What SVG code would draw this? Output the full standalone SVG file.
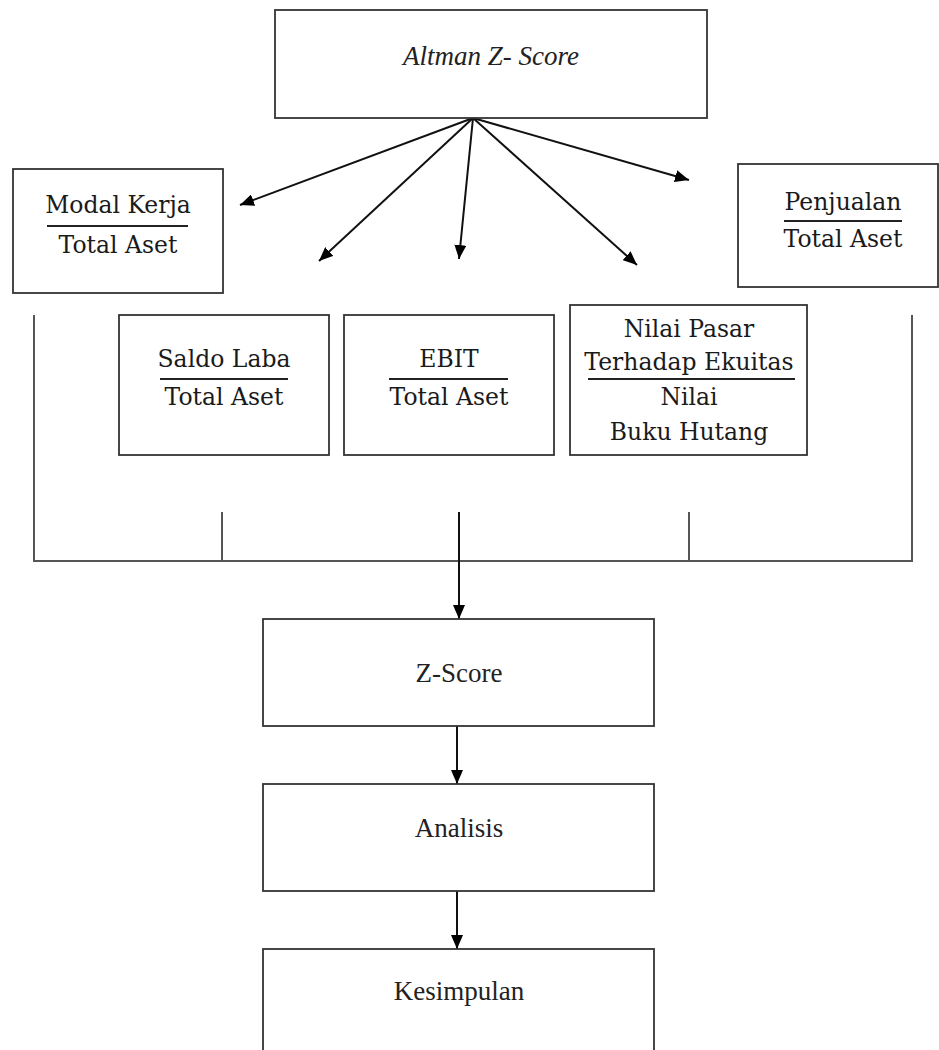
<svg xmlns="http://www.w3.org/2000/svg" width="939" height="1050" viewBox="0 0 939 1050">
<defs>
<style>
.box{fill:#fff;stroke:#333;stroke-width:1.8}
.ln{fill:none;stroke:#111;stroke-width:2}
.br{fill:none;stroke:#555;stroke-width:2}
.bar{stroke:#222;stroke-width:2.2}
.c{font-family:"DejaVu Serif","Liberation Serif",serif;font-size:23.5px;fill:#1a1a1a;text-anchor:middle}
.t{font-family:"Liberation Serif",serif;font-size:27px;fill:#222;text-anchor:middle}
.ti{font-style:italic}
</style>
<marker id="ah" viewBox="0 0 14 12" refX="14" refY="6" markerWidth="14" markerHeight="12" markerUnits="userSpaceOnUse" orient="auto">
<path d="M0,0 L14,6 L0,12 z" fill="#000"/>
</marker>
</defs>
<rect width="939" height="1050" fill="#fff"/>

<g id="connectors">
<line class="ln" x1="473" y1="118" x2="240" y2="205" marker-end="url(#ah)"/>
<line class="ln" x1="473" y1="118" x2="319" y2="261" marker-end="url(#ah)"/>
<line class="ln" x1="473" y1="118" x2="459" y2="259" marker-end="url(#ah)"/>
<line class="ln" x1="473" y1="118" x2="637" y2="265" marker-end="url(#ah)"/>
<line class="ln" x1="473" y1="118" x2="689" y2="180" marker-end="url(#ah)"/>
<path class="br" d="M34,315 V561 H912 V315"/>
<line class="br" x1="222" y1="512" x2="222" y2="561"/>
<line class="br" x1="689" y1="512" x2="689" y2="561"/>
<line class="ln" x1="459" y1="512" x2="459" y2="619" marker-end="url(#ah)"/>
<line class="ln" x1="457" y1="726" x2="457" y2="784" marker-end="url(#ah)"/>
<line class="ln" x1="457" y1="891" x2="457" y2="949" marker-end="url(#ah)"/>
</g>

<g id="altman">
<rect class="box" x="275" y="10" width="432" height="108"/>
<text class="t ti" x="491" y="65">Altman Z- Score</text>
</g>

<g id="modal-kerja">
<rect class="box" x="13" y="169" width="210" height="124"/>
<text class="c" x="118" y="213">Modal Kerja</text>
<line class="bar" x1="47" y1="226" x2="188" y2="226"/>
<text class="c" x="118" y="253">Total Aset</text>
</g>

<g id="penjualan">
<rect class="box" x="738" y="164" width="200" height="123"/>
<text class="c" x="843" y="210">Penjualan</text>
<line class="bar" x1="784" y1="221" x2="902" y2="221"/>
<text class="c" x="843" y="247">Total Aset</text>
</g>

<g id="saldo-laba">
<rect class="box" x="119" y="315" width="210" height="140"/>
<text class="c" x="224" y="367">Saldo Laba</text>
<line class="bar" x1="160" y1="379" x2="288" y2="379"/>
<text class="c" x="224" y="405">Total Aset</text>
</g>

<g id="ebit">
<rect class="box" x="344" y="315" width="210" height="140"/>
<text class="c" x="449" y="367">EBIT</text>
<line class="bar" x1="389" y1="379" x2="508" y2="379"/>
<text class="c" x="449" y="405">Total Aset</text>
</g>

<g id="nilai-pasar">
<rect class="box" x="570" y="305" width="237" height="150"/>
<text class="c" x="689" y="337">Nilai Pasar</text>
<text class="c" x="689" y="370">Terhadap Ekuitas</text>
<line class="bar" x1="588" y1="379" x2="795" y2="379"/>
<text class="c" x="689" y="405">Nilai</text>
<text class="c" x="689" y="440">Buku Hutang</text>
</g>

<g id="z-score">
<rect class="box" x="263" y="619" width="391" height="107"/>
<text class="t" x="459" y="682">Z-Score</text>
</g>

<g id="analisis">
<rect class="box" x="263" y="784" width="391" height="107"/>
<text class="t" x="459" y="837">Analisis</text>
</g>

<g id="kesimpulan">
<rect class="box" x="263" y="949" width="391" height="120"/>
<text class="t" x="459" y="1000">Kesimpulan</text>
</g>
</svg>
